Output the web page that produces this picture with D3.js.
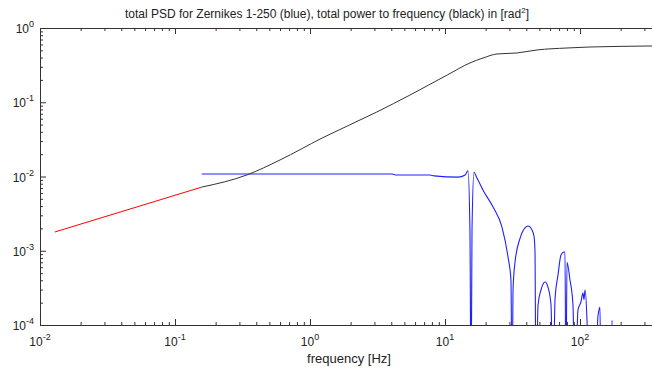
<!DOCTYPE html>
<html>
<head>
<meta charset="UTF-8">
<script src="https://d3js.org/d3.v7.min.js"></script>
<style>
  body { margin: 0; background: #fff; font-family: "Liberation Sans", Arial, sans-serif; }
  svg { display: block; }
  .domain { stroke: #333; }
  .tick line { stroke: #333; }
</style>
</head>
<body>
<div id="chart"></div>
<script>
// values (frequency in Hz, power in rad^2)
const redFreq = [0.0129, 0.158];
const redPow  = [1.79e-3, 7.2e-3];

const blackFreq = [0.158, 0.341, 0.6, 1.23, 3.13, 5.5, 10.4, 15.3, 19.1, 24.3, 34.1, 48, 80, 118.6, 330, 400];
const blackPow  = [7.2e-3, 0.0105, 0.0167, 0.033, 0.074, 0.125, 0.233, 0.338, 0.394, 0.447, 0.461, 0.506, 0.538, 0.555, 0.572, 0.575];

const blueFreq = [0.158, 0.843, 4.05, 4.3, 7.74, 8.3, 12.5, 14.1, 14.8, 15.3, 15.6, 15.85, 16.4, 17.0,
  19.1, 22.7, 26.4, 29.3, 30.8, 31.4, 31.9, 33.0, 36.0, 38.5, 41.2, 44.1, 45.6, 46.4, 47.2,
  48.9, 51.4, 55.1, 57.9, 61.0, 63.1, 65.3, 68.7, 72.3, 76.1, 77.4, 78.7, 80.1, 84.3, 88.7,
  91.8, 96.6, 101.6, 105.2, 107, 108.9, 112.7, 116.6, 129, 135.8, 140.6, 143.1, 169.8, 172.7, 175.5, 200];
const bluePow  = [0.0108, 0.0108, 0.0108, 0.0105, 0.0105, 0.0102, 0.0098, 0.0105, 0.0119, 1.9e-3, 1e-5, 1.9e-3, 0.0115, 0.0101,
  6.58e-3, 3.88e-3, 2.09e-3, 8.24e-4, 4.04e-4, 1e-5, 2.96e-4, 7.0e-4, 1.48e-3, 1.96e-3, 2.15e-3, 1.9e-3, 1.58e-3, 1.0e-3, 1e-5,
  1.86e-4, 2.96e-4, 3.8e-4, 3.24e-4, 1.86e-4, 1e-5, 2.2e-4, 4.7e-4, 8.77e-4, 9.6e-4, 9.6e-4, 1e-5, 7.0e-4, 4.04e-4, 1.86e-4,
  1e-5, 1.6e-4, 2.04e-4, 2.7e-4, 2.2e-4, 2.96e-4, 1.15e-4, 1e-5, 1e-5, 1.3e-4, 1.73e-4, 1e-5, 1e-5, 1.15e-4, 1e-5, 1e-5];

const xMajor = [0.01, 0.1, 1, 10, 100];
const xExp   = ["-2", "-1", "0", "1", "2"];
const yMajor = [1e-4, 1e-3, 1e-2, 1e-1, 1];
const yExp   = ["-4", "-3", "-2", "-1", "0"];

const W = 652, H = 371;
const plotLeft = 40, plotTop = 28, plotBottom = 325;

const svg = d3.select("#chart").append("svg")
  .attr("width", W).attr("height", H);

// axes run past the right edge of the picture (cropped like the original)
const x = d3.scaleLog().domain([0.01, 1000]).range([plotLeft, plotLeft + 135 * 5]);
const y = d3.scaleLog().domain([1e-4, 1]).range([plotBottom, plotTop]);

const xMinor = x.ticks().filter(v => !xMajor.some(m => Math.abs(m - v) / m < 1e-6) && v < 1000);
const yMinor = y.ticks().filter(v => !yMajor.some(m => Math.abs(m - v) / m < 1e-6));

// bottom axis (ticks point inward)
const gb = svg.append("g").attr("transform", `translate(0,${plotBottom})`);
gb.call(d3.axisBottom(x).tickValues(xMinor).tickSize(-3).tickFormat(""));
gb.append("g").call(d3.axisBottom(x).tickValues(xMajor).tickSize(-6).tickFormat(""))
  .select(".domain").remove();

// top axis
const gt = svg.append("g").attr("transform", `translate(0,${plotTop})`);
gt.call(d3.axisTop(x).tickValues(xMinor).tickSize(-3).tickFormat(""));
gt.append("g").call(d3.axisTop(x).tickValues(xMajor).tickSize(-6).tickFormat(""))
  .select(".domain").remove();

// left axis
const gl = svg.append("g").attr("transform", `translate(${plotLeft},0)`);
gl.call(d3.axisLeft(y).tickValues(yMinor).tickSize(-3).tickFormat(""));
gl.append("g").call(d3.axisLeft(y).tickValues(yMajor).tickSize(-6).tickFormat(""))
  .select(".domain").remove();

svg.selectAll(".domain").attr("stroke-width", 1);

// tick labels as 10^n
const xl = svg.append("g").selectAll("text").data(xMajor).join("text")
  .attr("x", d => x(d)).attr("y", plotBottom + 21)
  .attr("text-anchor", "middle")
  .style("font-size", "12px").attr("fill", "#222");
xl.append("tspan").text("10");
xl.append("tspan").attr("dy", -6).style("font-size", "9px").text((d, i) => xExp[i]);

const yl = svg.append("g").selectAll("text").data(yMajor).join("text")
  .attr("x", 34).attr("y", d => y(d) + 5)
  .attr("text-anchor", "end")
  .style("font-size", "12px").attr("fill", "#222");
yl.append("tspan").text("10");
yl.append("tspan").attr("dy", -6).style("font-size", "9px").text((d, i) => yExp[i]);

// title and axis label
const title = svg.append("text")
  .attr("x", 327).attr("y", 18)
  .attr("text-anchor", "middle")
  .style("font-size", "12px").attr("fill", "#222");
title.append("tspan").text("total PSD for Zernikes 1-250 (blue), total power to frequency (black) in [rad");
title.append("tspan").attr("dy", -5).style("font-size", "8px").text("2");
title.append("tspan").attr("dy", 5).text("]");

svg.append("text")
  .attr("x", 349).attr("y", 363)
  .attr("text-anchor", "middle")
  .style("font-size", "13px").attr("fill", "#222")
  .text("frequency [Hz]");

// plot area clip
svg.append("clipPath").attr("id", "clip")
  .append("rect").attr("x", plotLeft).attr("y", plotTop).attr("width", W).attr("height", plotBottom - plotTop);

const line = d3.line().x(d => x(d[0])).y(d => y(d[1])).curve(d3.curveMonotoneX);
const plot = svg.append("g").attr("clip-path", "url(#clip)");

plot.append("path")
  .datum(d3.zip(blueFreq, bluePow))
  .attr("d", line).attr("fill", "none")
  .attr("stroke", "#2020ff").attr("stroke-width", 1.1);

plot.append("path")
  .datum(d3.zip(blackFreq, blackPow))
  .attr("d", line).attr("fill", "none")
  .attr("stroke", "#333").attr("stroke-width", 1);

plot.append("path")
  .datum(d3.zip(redFreq, redPow))
  .attr("d", line).attr("fill", "none")
  .attr("stroke", "#ff0000").attr("stroke-width", 1);
</script>
</body>
</html>
